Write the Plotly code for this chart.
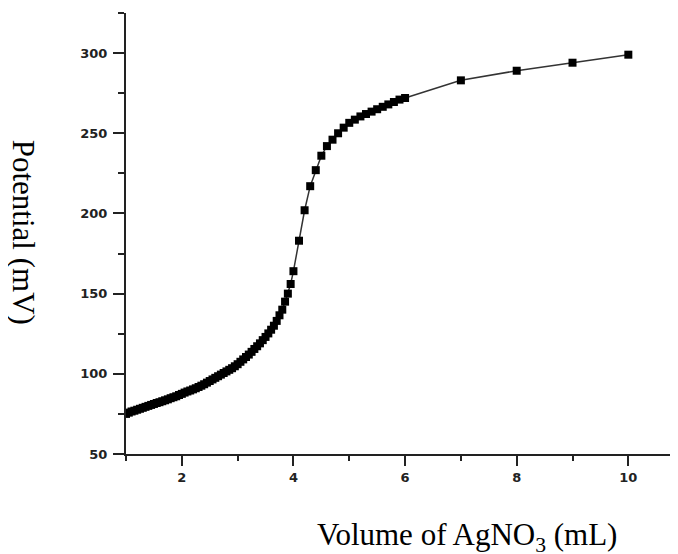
import plotly.graph_objects as go

volume = [1.00, 1.05, 1.10, 1.15, 1.20, 1.25, 1.30, 1.35, 1.40, 1.45,
          1.50, 1.55, 1.60, 1.65, 1.70, 1.75, 1.80, 1.85, 1.90, 1.95,
          2.00, 2.05, 2.10, 2.15, 2.20, 2.25, 2.30, 2.35, 2.40, 2.45,
          2.50, 2.55, 2.60, 2.65, 2.70, 2.75, 2.80, 2.85, 2.90, 2.95,
          3.00, 3.05, 3.10, 3.15, 3.20, 3.25, 3.30, 3.35, 3.40, 3.45,
          3.50, 3.55, 3.60, 3.65, 3.70, 3.75, 3.80, 3.85, 3.90, 3.95,
          4.00, 4.10, 4.20, 4.30, 4.40, 4.50, 4.60, 4.70, 4.80, 4.90,
          5.00, 5.10, 5.20, 5.30, 5.40, 5.50, 5.60, 5.70, 5.80, 5.90,
          6.00, 7.00, 8.00, 9.00, 10.00]
potential = [75, 75.8, 76.5, 77, 77.6, 78.2, 78.8, 79.4, 80, 80.6,
             81.2, 81.8, 82.3, 82.9, 83.5, 84.1, 84.8, 85.4, 86, 86.8,
             87.5, 88.3, 89, 89.6, 90.3, 91, 91.8, 92.6, 93.5, 94.5,
             95.5, 96.5, 97.5, 98.5, 99.5, 100.5, 101.5, 102.5, 103.5, 104.7,
             106, 107.5, 109, 110.5, 112, 113.7, 115.5, 117.2, 119, 121,
             123, 125.2, 127.5, 130, 133, 136.5, 140, 145, 150, 156,
             164, 183, 202, 217, 227, 236, 242, 246, 250, 253.5,
             256.5, 258.5, 260.5, 262, 263.5, 265, 266.5, 268, 269.5, 271,
             272, 283, 289, 294, 299]

x_ticks = [2, 4, 6, 8, 10]
y_ticks = [50, 100, 150, 200, 250, 300]

fig = go.Figure()
fig.add_trace(go.Scatter(
    x=volume, y=potential, mode="lines+markers",
    line=dict(color="#333333", width=1.5),
    marker=dict(symbol="square", size=8, color="black"),
    showlegend=False,
))

tickfont = dict(family="DejaVu Sans", size=13, color="#222222", weight="bold")

fig.update_xaxes(
    range=[1, 10.89], tickvals=x_ticks, ticktext=[str(v) for v in x_ticks],
    ticks="outside", ticklen=10, tickwidth=2, tickcolor="#222222",
    minor=dict(dtick=1, tick0=0, ticks="outside", ticklen=5, tickwidth=2, tickcolor="#222222"),
    showline=True, linecolor="#222222", linewidth=2, showgrid=False, zeroline=False,
    tickfont=tickfont,
)
fig.update_yaxes(
    range=[50, 325], tickvals=y_ticks, ticktext=[str(v) for v in y_ticks],
    ticks="outside", ticklen=11, tickwidth=2, tickcolor="#222222",
    minor=dict(dtick=25, tick0=0, ticks="outside", ticklen=6, tickwidth=2, tickcolor="#222222"),
    showline=True, linecolor="#222222", linewidth=2, showgrid=False, zeroline=False,
    tickfont=tickfont, ticklabelstandoff=3,
)

fig.add_shape(type="line", xref="paper", yref="paper", x0=-0.02, x1=0, y0=0, y1=0,
              line=dict(color="#222222", width=2))

fig.add_annotation(
    text="Potential (mV)", xref="paper", yref="paper", x=-0.185, y=0.502,
    xanchor="center", yanchor="middle", showarrow=False, textangle=90,
    font=dict(family="Liberation Serif", size=31, color="black"),
)
fig.add_annotation(
    text="Volume of AgNO<sub>3</sub> (mL)", xref="paper", yref="paper", x=0.617, y=-0.139,
    xanchor="center", yanchor="top", showarrow=False,
    font=dict(family="Liberation Serif", size=31, color="black"),
)

fig.update_layout(
    width=670, height=546,
    margin=dict(l=118, r=0, t=5, b=100),
    paper_bgcolor="white", plot_bgcolor="white",
)

fig.write_html("out.html")
